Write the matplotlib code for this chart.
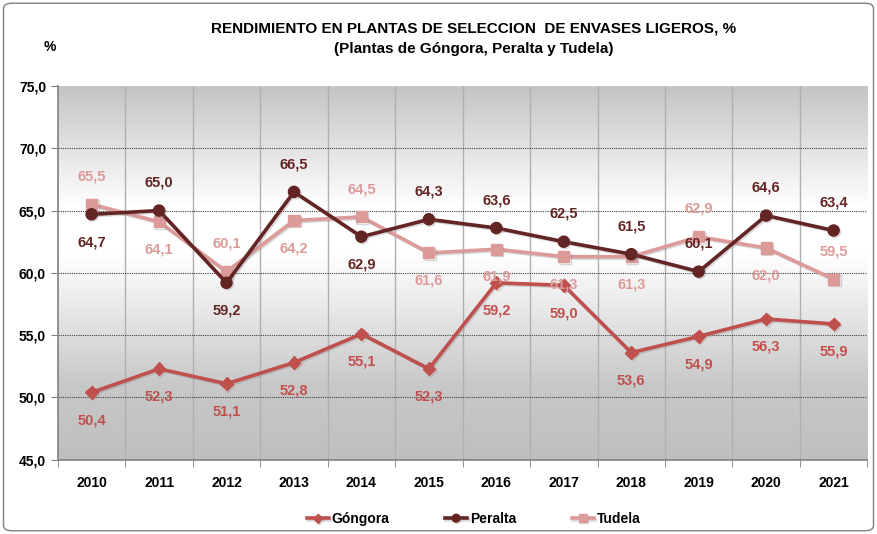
import matplotlib
matplotlib.use("Agg")
import matplotlib.pyplot as plt
import numpy as np
from matplotlib.colors import LinearSegmentedColormap
from matplotlib.patches import FancyBboxPatch
import matplotlib.patheffects as pe

plt.rcParams['font.family'] = ['Liberation Sans', 'DejaVu Sans']

years = ["2010", "2011", "2012", "2013", "2014", "2015", "2016", "2017", "2018", "2019", "2020", "2021"]
gongora = [50.4, 52.3, 51.1, 52.8, 55.1, 52.3, 59.2, 59.0, 53.6, 54.9, 56.3, 55.9]
peralta = [64.7, 65.0, 59.2, 66.5, 62.9, 64.3, 63.6, 62.5, 61.5, 60.1, 64.6, 63.4]
tudela = [65.5, 64.1, 60.1, 64.2, 64.5, 61.6, 61.9, 61.3, 61.3, 62.9, 62.0, 59.5]

# label above (1) or below (-1) each point
gongora_pos = [-1] * 12
peralta_pos = [-1, 1, -1, 1, -1, 1, 1, 1, 1, 1, 1, 1]
tudela_pos = [1, -1, 1, -1, 1, -1, -1, -1, -1, 1, -1, 1]

c_gon = "#c0504d"
c_per = "#632523"
c_tud = "#dc9a99"

fig = plt.figure(figsize=(8.77, 5.34), dpi=100)
fig.patches.append(FancyBboxPatch((0.004, 0.006), 0.992, 0.988, boxstyle="round,pad=0,rounding_size=0.01",
                                  transform=fig.transFigure, fill=False, edgecolor="#7f7f7f", linewidth=1.0))
ax = fig.add_axes([0.066, 0.139, 0.923, 0.700])

x = np.arange(len(years))
ax.set_xlim(-0.5, len(years) - 0.5)
ax.set_ylim(45, 75)

# gradient background
cmap = LinearSegmentedColormap.from_list("bg", [(0, "#bfbfbf"), (0.2, "#c8c8c8"), (0.55, "#ffffff"),
                                                (0.68, "#ffffff"), (1.0, "#c4c4c4")])
grad = np.linspace(0, 1, 256).reshape(-1, 1)
ax.imshow(grad, extent=[-0.5, len(years) - 0.5, 45, 75], origin="lower", aspect="auto", cmap=cmap, zorder=0)
ax.set_facecolor("none")

for b in np.arange(0.5, len(years) - 0.5, 1):
    ax.axvline(b, color="#b0b0b0", linewidth=1, zorder=1)
for yv in [50, 55, 60, 65, 70]:
    ax.axhline(yv, color="#404040", linewidth=0.8, linestyle=(0, (1, 1)), zorder=1)

shadow = [pe.SimpleLineShadow(offset=(1, -1), shadow_color="gray", alpha=0.3), pe.Normal()]
ax.plot(x, gongora, color=c_gon, marker="D", markersize=6.5, linewidth=2.6, label="Góngora", zorder=3, path_effects=shadow)
ax.plot(x, peralta, color=c_per, marker="o", markersize=8, linewidth=2.6, label="Peralta", zorder=4, path_effects=shadow)
ax.plot(x, tudela, color=c_tud, marker="s", markersize=8, linewidth=2.6, label="Tudela", zorder=3, path_effects=shadow)

for vals, pos, col in [(gongora, gongora_pos, c_gon), (peralta, peralta_pos, c_per), (tudela, tudela_pos, c_tud)]:
    for xi, v, p in zip(x, vals, pos):
        ax.annotate(f"{v:.1f}".replace(".", ","), (xi, v), xytext=(0, 20 * p), textcoords="offset points",
                    ha="center", va="center", color=col, fontsize=10.5, fontweight="bold", zorder=5)

ax.set_yticks(np.arange(45, 76, 5))
ax.set_yticklabels([f"{v:.1f}".replace(".", ",") for v in np.arange(45, 76, 5)], fontsize=10, fontweight="bold")
ax.set_xticks(x)
ax.set_xticklabels(years, fontsize=10, fontweight="bold")
ax.tick_params(axis="x", length=0, pad=12)
ax.set_xticks(np.arange(-0.5, len(years), 1), minor=True)
ax.tick_params(axis="x", which="minor", length=5, color="#808080")
ax.tick_params(axis="y", length=5, color="#808080")
for s in ["top", "right"]:
    ax.spines[s].set_visible(False)
for s in ["left", "bottom"]:
    ax.spines[s].set_color("#808080")
    ax.spines[s].set_linewidth(1.2)

fig.text(0.54, 0.947, "RENDIMIENTO EN PLANTAS DE SELECCION  DE ENVASES LIGEROS, %", ha="center", va="center",
         fontsize=11, fontweight="bold")
fig.text(0.54, 0.909, "(Plantas de Góngora, Peralta y Tudela)", ha="center", va="center",
         fontsize=11, fontweight="bold")
fig.text(0.057, 0.912, "%", ha="center", va="center", fontsize=10, fontweight="bold")

leg = fig.legend(loc="center", bbox_to_anchor=(0.54, 0.028), ncol=3, frameon=False,
                 prop={"weight": "bold", "size": 10}, handlelength=1.6, columnspacing=4.0,
                 handletextpad=0.2, markerscale=0.7)

fig.savefig("out.png", dpi=100)
